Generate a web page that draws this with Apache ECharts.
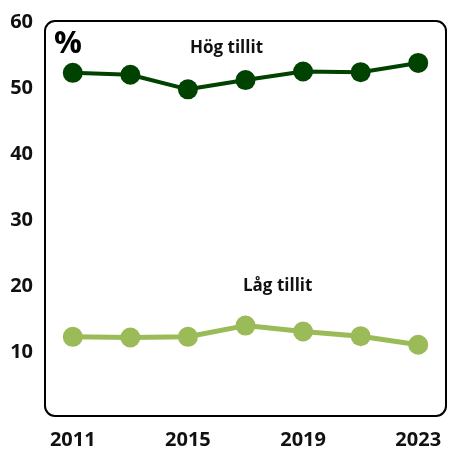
<!DOCTYPE html>
<html>
<head>
<meta charset="utf-8">
<script src="https://cdn.jsdelivr.net/npm/echarts@6/dist/echarts.min.js"></script>
<style>
  html, body { margin: 0; padding: 0; background: #fff; }
  #chart { width: 454px; height: 450px; }
</style>
</head>
<body>
<div id="chart"></div>
<script>
const years = ['2011', '2013', '2015', '2017', '2019', '2021', '2023'];
const hogTillit = [52.3, 52.0, 49.8, 51.2, 52.5, 52.4, 53.8];
const lagTillit = [12.3, 12.2, 12.3, 14.0, 13.1, 12.4, 11.1];
const yTicks = [0, 10, 20, 30, 40, 50, 60];

const chart = echarts.init(document.getElementById('chart'));

const font = '"Open Sans", "DejaVu Sans", sans-serif';

const option = {
    animation: false,
    grid: { left: 44, right: 7, top: 22, bottom: 32 },
    xAxis: {
        type: 'category',
        data: years,
        boundaryGap: true,
        axisLine: { show: false },
        axisTick: { show: false },
        axisLabel: {
            interval: 1,
            margin: 12,
            color: '#111',
            fontFamily: font,
            fontWeight: 'bold',
            fontSize: 20
        }
    },
    yAxis: {
        type: 'value',
        min: yTicks[0],
        max: yTicks[yTicks.length - 1],
        interval: 10,
        splitLine: { show: false },
        axisLine: { show: false },
        axisTick: { show: false },
        axisLabel: {
            margin: 11,
            color: '#111',
            fontFamily: font,
            fontWeight: 'bold',
            fontSize: 20,
            formatter: v => (v === 0 ? '' : v)
        }
    },
    // ram med rundade hörn runt plottytan
    graphic: [
        {
            type: 'rect',
            z: -1,
            shape: { x: 45, y: 21, width: 401, height: 395, r: 10 },
            style: { fill: 'none', stroke: '#000', lineWidth: 2 }
        },
        {
            type: 'text',
            left: 54, top: 29,
            style: { text: '%', font: 'bold 31px ' + font, fill: '#000' }
        },
        {
            type: 'text',
            left: 190, top: 40,
            style: { text: 'Hög tillit', font: 'bold 17px ' + font, fill: '#111' }
        },
        {
            type: 'text',
            left: 243, top: 278,
            style: { text: 'Låg tillit', font: 'bold 17px ' + font, fill: '#111' }
        }
    ],
    series: [
        {
            name: 'Hög tillit',
            type: 'line',
            data: hogTillit,
            symbol: 'circle',
            symbolSize: 20,
            lineStyle: { color: '#004200', width: 4 },
            itemStyle: { color: '#004200' }
        },
        {
            name: 'Låg tillit',
            type: 'line',
            data: lagTillit,
            symbol: 'circle',
            symbolSize: 20,
            lineStyle: { color: '#9bbb59', width: 5 },
            itemStyle: { color: '#9bbb59' }
        }
    ]
};

chart.setOption(option);
</script>
</body>
</html>
